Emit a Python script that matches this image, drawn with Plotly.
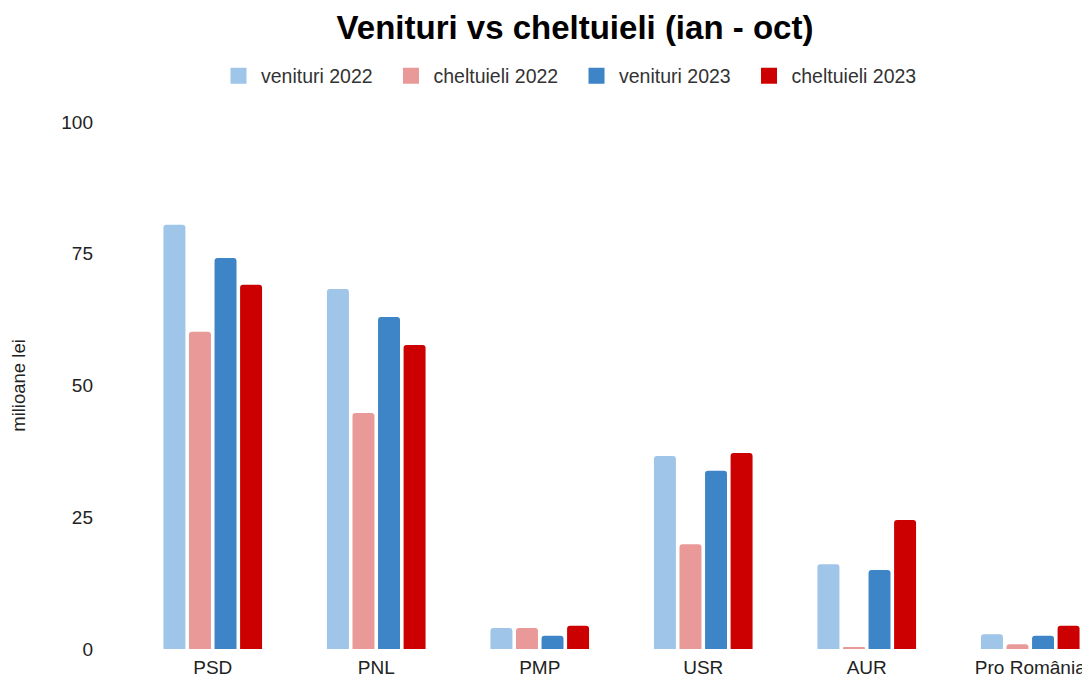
import plotly.graph_objects as go

parties = ["PSD", "PNL", "PMP", "USR", "AUR", "Pro România"]
venituri_2022 = [80.5, 68.3, 4.0, 36.6, 16.1, 2.8]
cheltuieli_2022 = [60.2, 44.8, 4.0, 19.9, 0.2, 0.9]
venituri_2023 = [74.2, 63.0, 2.5, 33.8, 15.0, 2.5]
cheltuieli_2023 = [69.1, 57.7, 4.4, 37.2, 24.5, 4.4]

series = [
    ("venituri 2022", venituri_2022, "#9fc5e8"),
    ("cheltuieli 2022", cheltuieli_2022, "#ea9999"),
    ("venituri 2023", venituri_2023, "#3d85c6"),
    ("cheltuieli 2023", cheltuieli_2023, "#cc0000"),
]

fig = go.Figure()
for name, vals, color in series:
    fig.add_trace(go.Bar(x=parties, y=vals, name=name, showlegend=False,
                         marker=dict(color=color, cornerradius=3, line=dict(width=0))))
# legend swatches (square markers)
for name, vals, color in series:
    fig.add_trace(go.Scatter(x=[None], y=[None], mode="markers", name=name + "\u00a0\u00a0",
                             marker=dict(symbol="square", size=16, color=color)))

FONT = "Liberation Sans, Arial, sans-serif"
W, H = 1090, 677
OFF = 8  # page body offset
fig.update_layout(
    width=W, height=H,
    paper_bgcolor="white", plot_bgcolor="white",
    font=dict(family=FONT, color="#222222", size=19),
    title=dict(text="<b>Venituri vs cheltuieli (ian - oct)</b>", x=(575 - OFF) / W, xanchor="center",
               xref="container", y=1 - (27 - OFF) / H, yanchor="middle", yref="container",
               font=dict(size=33, color="black", family=FONT)),
    legend=dict(orientation="h", xref="container", yref="container", x=208 / W, xanchor="left",
                y=1 - (76 - OFF) / H, yanchor="middle", font=dict(size=19.5, color="#333333"),
                traceorder="normal", itemwidth=35),
    margin=dict(l=131 - OFF, r=0, t=122 - OFF, b=H - (649 - OFF)),
    bargap=0.375, bargroupgap=0.14,
    xaxis=dict(range=[-0.5, -0.5 + (W - (131 - OFF)) / 163.5], showgrid=False, showline=False, ticks="",
               tickfont=dict(size=19, color="#222222"), ticklabelstandoff=5, fixedrange=True),
    yaxis=dict(range=[0, 100], tickvals=[0, 25, 50, 75, 100], showgrid=False, zeroline=False,
               showline=False, ticks="", ticklabelstandoff=37,
               tickfont=dict(size=19, color="#222222"),
               title=dict(text="milioane lei", font=dict(size=18.5, color="#222222"), standoff=30)),
)
fig.write_html("out.html")
